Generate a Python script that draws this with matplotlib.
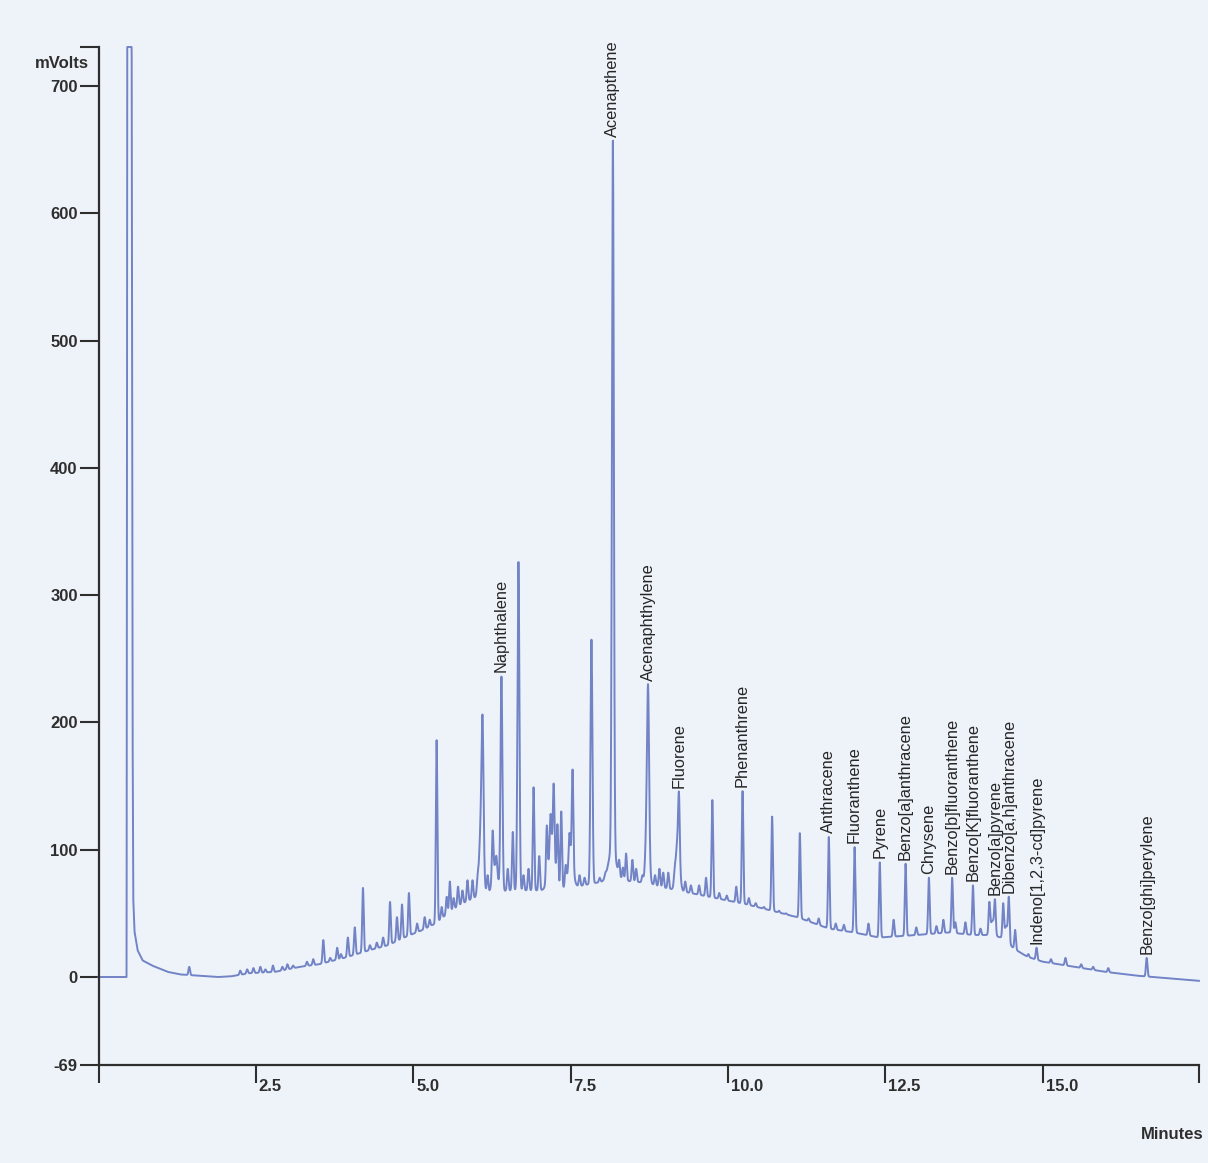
import numpy as np
import matplotlib
matplotlib.use("Agg")
import matplotlib.pyplot as plt

plt.rcParams["font.family"] = ["Liberation Sans", "DejaVu Sans"]

# ── Data ───────────────────────────────────────────────────────────────────────
X_MAX = 17.48          # end of run, minutes
Y_MIN = -69.0
Y_TOP = 730.6          # detector range shown (solvent front is clipped here)

# drift baseline incl. solvent front and its tail  (minutes, mV)
base_t = [0.00, 0.445, 0.455, 0.525, 0.540, 0.552, 0.57, 0.62, 0.70, 0.85, 0.95,
          1.10, 1.30, 1.60, 1.90, 2.10, 2.40, 2.80, 3.20, 3.50, 3.90, 4.30, 4.60,
          4.90, 5.15, 5.35, 5.55, 5.75, 6.00, 6.20, 6.50, 7.00, 7.50, 7.90, 8.30,
          8.70, 9.00, 9.40, 9.80, 10.30, 10.70, 11.10, 11.60, 12.00, 12.40, 13.00,
          13.50, 13.90, 14.10, 14.35, 14.55, 14.75, 15.00, 15.50, 16.00, 16.50,
          17.00, 17.48]
base_v = [0, 0, 760, 760, 200, 60, 36, 21, 13, 9, 7,
          4, 2, 1, 0, 0.5, 3, 4, 8, 10, 15, 21, 25,
          32, 37, 42, 50, 57, 63, 66, 68, 68, 70, 74, 76,
          74, 70, 66, 62, 57, 52, 47, 38, 35, 31, 33,
          35, 33, 33, 31, 22, 16, 12, 8, 4, 1,
          -1, -3]

# broad shoulders under the main peaks (minutes, mV above baseline, sigma)
hump_t = [6.08, 6.30, 7.20, 7.50, 8.16, 8.72, 9.20, 14.20, 14.42]
hump_v = [60, 20, 35, 25, 25, 70, 40, 12, 12]
hump_w = [0.03, 0.04, 0.05, 0.04, 0.06, 0.025, 0.03, 0.03, 0.025]

# unlabelled peaks (retention time, apex mV)
peak_t = [1.44, 2.25, 2.36, 2.46, 2.57, 2.65, 2.77, 2.92, 3.00, 3.09, 3.31, 3.41,
          3.57, 3.68, 3.79, 3.85, 3.96, 4.07, 4.20, 4.31, 4.42, 4.52, 4.63, 4.74,
          4.82, 4.93, 5.06, 5.18, 5.26, 5.37, 5.45, 5.53, 5.58, 5.64, 5.71, 5.78,
          5.86, 5.94, 6.02, 6.10, 6.18, 6.26, 6.32, 6.50, 6.58, 6.67, 6.75, 6.83,
          6.91, 7.00, 7.12, 7.18, 7.23, 7.29, 7.35, 7.42, 7.48, 7.53, 7.64, 7.72,
          7.83, 7.96, 8.05, 8.27, 8.33, 8.38, 8.48, 8.54, 8.64, 8.84, 8.91, 8.97,
          9.05, 9.15, 9.32, 9.41, 9.54, 9.65, 9.75, 9.86, 9.98, 10.13, 10.33, 10.44,
          10.57, 10.70, 10.81, 10.92, 11.01, 11.14, 11.28, 11.44, 11.71, 11.84,
          12.23, 12.63, 12.99, 13.31, 13.42, 13.61, 13.77, 14.01, 14.15,
          14.37, 14.56, 14.77, 15.13, 15.36, 15.61, 15.80, 16.04]
peak_v = [8, 5, 6, 7, 8, 6, 9, 8, 10, 9, 12, 14,
          29, 15, 23, 18, 31, 39, 70, 25, 27, 31, 59, 47,
          57, 66, 42, 47, 45, 186, 55, 63, 75, 62, 71, 68,
          76, 76, 80, 205, 80, 115, 95, 85, 114, 326, 80, 85,
          149, 95, 119, 128, 152, 120, 130, 88, 113, 163, 80, 78,
          265, 78, 82, 92, 86, 97, 92, 85, 80, 80, 85, 82,
          82, 86, 75, 72, 72, 78, 139, 66, 64, 71, 62, 58,
          55, 126, 52, 50, 48, 113, 46, 46, 42, 41,
          42, 45, 39, 40, 45, 43, 43, 38, 59,
          58, 37, 18, 14, 15, 10, 8, 7]

# identified PAHs
label_names = ["Naphthalene", "Acenapthene", "Acenaphthylene", "Fluorene",
               "Phenanthrene", "Anthracene", "Fluoranthene", "Pyrene",
               "Benzo[a]anthracene", "Chrysene", "Benzo[b]fluoranthene",
               "Benzo[K]fluoranthene", "Benzo[a]pyrene", "Dibenzo[a,h]anthracene",
               "Indeno[1,2,3-cd]pyrene", "Benzo[ghi]perylene"]
label_t = [6.40, 8.17, 8.73, 9.22, 10.23, 11.60, 12.01, 12.41,
           12.82, 13.19, 13.56, 13.89, 14.24, 14.46, 14.90, 16.65]
label_v = [236, 657, 229, 145, 146, 110, 102, 90,
           89, 78, 78, 72, 61, 63, 23, 15]

x_ticks = [0, 2.5, 5.0, 7.5, 10.0, 12.5, 15.0, X_MAX]
x_tick_labels = ["", "2.5", "5.0", "7.5", "10.0", "12.5", "15.0", ""]
y_ticks = [-69, 0, 100, 200, 300, 400, 500, 600, 700, Y_TOP]
y_tick_labels = ["-69", "0", "100", "200", "300", "400", "500", "600", "700", ""]

# ── Build detector trace ───────────────────────────────────────────────────────
t = np.arange(0, X_MAX + 0.001, 0.002)
bg = np.interp(t, base_t, base_v)
for tc, h, w in zip(hump_t, hump_v, hump_w):
    bg = bg + h * np.exp(-0.5 * ((t - tc) / w) ** 2)

signal = bg.copy()
for tc, apex in zip(peak_t + label_t, peak_v + label_v):
    amp = apex - np.interp(tc, t, bg)
    sig = 0.012 if apex < 200 else 0.015
    signal += amp * np.exp(-0.5 * ((t - tc) / sig) ** 2)
signal = np.minimum(signal, Y_TOP)

# ── Plot ───────────────────────────────────────────────────────────────────────
BG = "#eef3fa"
INK = "#2e2e2e"
TRACE = "#7283c6"

fig = plt.figure(figsize=(12.08, 11.63), dpi=100, facecolor=BG)
ax = fig.add_axes([0.0816, 0.0844, 0.9109, 0.8752])
ax.set_facecolor(BG)
ax.plot(t, signal, color=TRACE, lw=1.4, clip_on=False)

ax.set_xlim(0, X_MAX)
ax.set_ylim(Y_MIN, Y_TOP)
for side in ["top", "right"]:
    ax.spines[side].set_visible(False)
for side in ["left", "bottom"]:
    ax.spines[side].set_linewidth(1.6)
    ax.spines[side].set_color(INK)

ax.set_yticks(y_ticks)
ax.set_yticklabels(y_tick_labels, fontsize=12, fontweight="bold", color=INK)
ax.tick_params(axis="y", direction="out", length=14, width=1.5, pad=1, color=INK)

ax.set_xticks(x_ticks)
ax.set_xticklabels([""] * len(x_ticks))
ax.tick_params(axis="x", direction="out", length=13, width=1.5, color=INK)
for xv, lab in zip(x_ticks, x_tick_labels):
    if lab:
        ax.annotate(lab, xy=(xv, 0), xycoords=("data", "axes fraction"),
                    xytext=(2, -10), textcoords="offset points",
                    ha="left", va="top", fontsize=12, fontweight="bold", color=INK)

# peak names just above each apex
for name, tc, v in zip(label_names, label_t, label_v):
    ax.annotate(name, xy=(tc, v), xytext=(0, 3), textcoords="offset points",
                rotation=90, ha="center", va="bottom", fontsize=11.8, color="#262626")

fig.text(0.0737, 0.9458, "mVolts", ha="right", va="center",
         fontsize=12, fontweight="bold", color=INK)
fig.text(0.9959, 0.0249, "Minutes", ha="right", va="center",
         fontsize=12, fontweight="bold", color=INK)

fig.savefig("out.png", dpi=100, facecolor=BG)
plt.close(fig)
